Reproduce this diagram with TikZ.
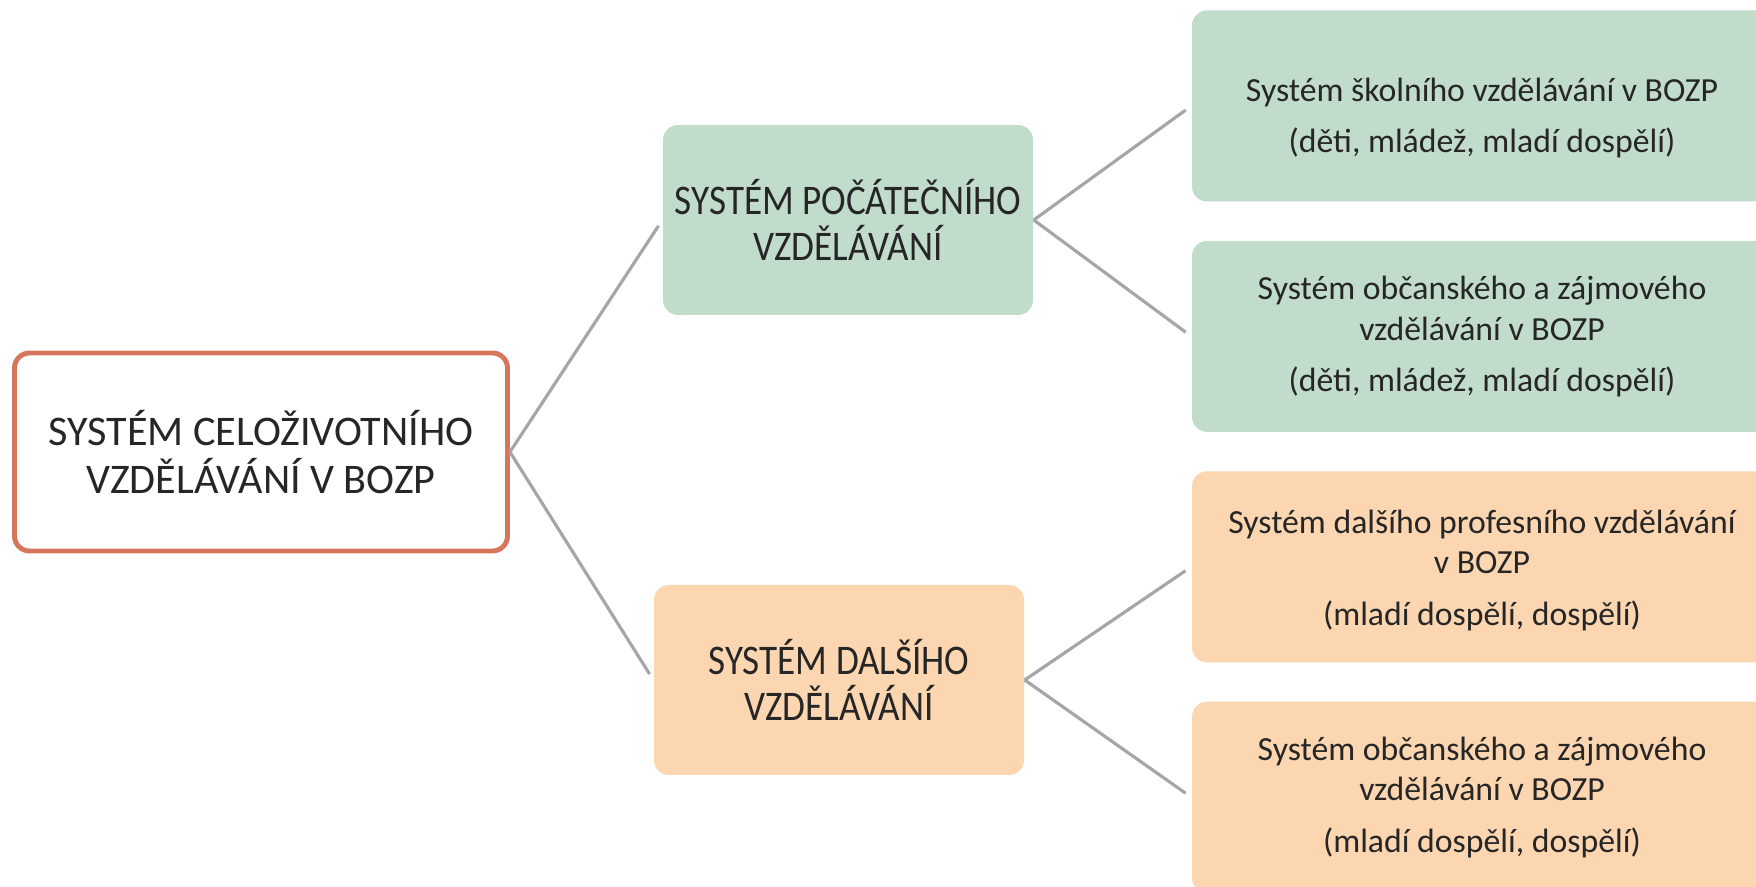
\documentclass[tikz,border=0pt]{standalone}
\usepackage{fontspec}
\setmainfont{Carlito}
\newfontfamily\narrowfont[FakeStretch=0.88]{Carlito}
\usetikzlibrary{positioning}

\begin{document}
\begin{tikzpicture}
\definecolor{root edge}{RGB}{214,118,92}
\definecolor{start area}{RGB}{193,220,203}
\definecolor{further area}{RGB}{251,214,176}
\definecolor{link line}{RGB}{166,166,166}
\tikzset{
     box/.style={rounded corners=0.15cm, align=center, inner sep=0pt, text=black!85},
     rootbox/.style={box, draw=root edge, line width=1.4pt, fill=white, minimum width=4.93cm, minimum height=1.98cm, font=\fontsize{12}{13.8}\selectfont},
     midbox/.style={box, minimum width=3.7cm, minimum height=1.9cm, font=\narrowfont\fontsize{12}{13.3}\selectfont},
     leafbox/.style={box, minimum width=5.8cm, minimum height=1.91cm, font=\fontsize{9.6}{11.6}\selectfont},
     link/.style={draw=link line, line width=0.9pt, shorten >=0.07cm}}

\useasboundingbox (0,0) rectangle (17.56,8.87);

% The main boxes
\node (root) [rootbox] at (2.61,4.35) {SYSTÉM CELOŽIVOTNÍHO\\VZDĚLÁVÁNÍ V BOZP};
\node (start) [midbox, fill=start area] at (8.48,6.67) {SYSTÉM POČÁTEČNÍHO\\VZDĚLÁVÁNÍ};
\node (further) [midbox, fill=further area] at (8.39,2.07) {SYSTÉM DALŠÍHO\\VZDĚLÁVÁNÍ};

% The leaf boxes
\node (school) [leafbox, fill=start area] at (14.82,7.81) {\rule{0pt}{0.47cm}Systém školního vzdělávání v BOZP\\[3pt](děti, mládež, mladí dospělí)};
\node (civicyoung) [leafbox, fill=start area, below=0.38cm of school] {Systém občanského a zájmového\\vzdělávání v BOZP\\[3pt](děti, mládež, mladí dospělí)};
\node (profession) [leafbox, fill=further area, below=0.38cm of civicyoung] {\rule{0pt}{0.3cm}Systém dalšího profesního vzdělávání\\v BOZP\\[3pt](mladí dospělí, dospělí)};
\node (civicadult) [leafbox, fill=further area, below=0.38cm of profession] {Systém občanského a zájmového\\vzdělávání v BOZP\\[3pt](mladí dospělí, dospělí)};

% The links
\draw [link] (root.east) -- (start.west);
\draw [link] (root.east) -- (further.west);
\draw [link] (start.east) -- (school.west);
\draw [link] (start.east) -- (civicyoung.west);
\draw [link] (further.east) -- (profession.west);
\draw [link] (further.east) -- (civicadult.west);
\end{tikzpicture}
\end{document}
